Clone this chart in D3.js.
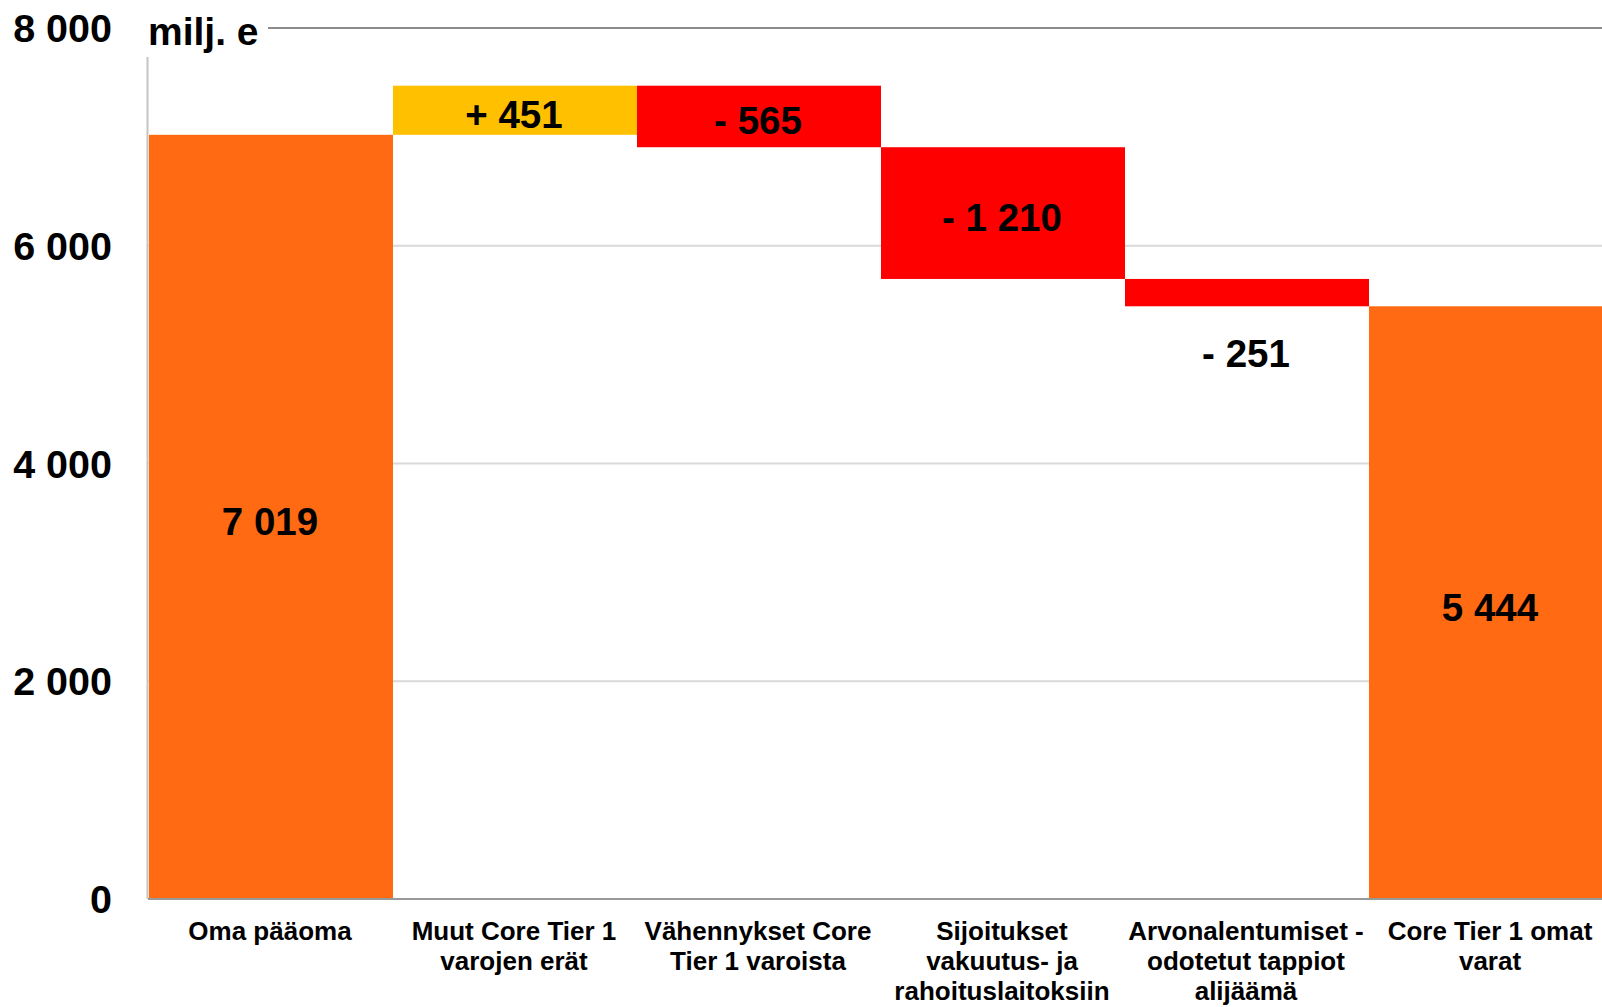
<!DOCTYPE html>
<html>
<head>
<meta charset="utf-8">
<script src="https://cdn.jsdelivr.net/npm/d3@7"></script>
<style>
  html, body { margin: 0; padding: 0; background: #fff; overflow: hidden; }
  svg { display: block; font-family: "Liberation Sans", Arial, sans-serif; font-weight: bold; }
</style>
</head>
<body>
<svg id="chart" width="1602" height="1007"></svg>
<script>
// ---- data ----
const categories = [
  ["Oma pääoma"],
  ["Muut Core Tier 1", "varojen erät"],
  ["Vähennykset Core", "Tier 1 varoista"],
  ["Sijoitukset", "vakuutus- ja", "rahoituslaitoksiin"],
  ["Arvonalentumiset -", "odotetut tappiot", "alijäämä"],
  ["Core Tier 1 omat", "varat"]
];
const values = [7019, 451, -565, -1210, -251, 5444];
const barTypes = ["total", "delta", "delta", "delta", "delta", "total"];
const valueLabels = ["7 019", "+ 451", "- 565", "- 1 210", "- 251", "5 444"];
const yTicks = [0, 2000, 4000, 6000, 8000];
const yTickLabels = ["0", "2 000", "4 000", "6 000", "8 000"];
const unitLabel = "milj. e";

// ---- layout ----
const W = 1602, H = 1007;
const left = 148, band = 244;
const yBottom = 899, yTop = 28;
const colors = { total: "#FF6A13", up: "#FFC000", down: "#FF0000" };

const svg = d3.select("#chart");

const x = d3.scaleBand()
  .domain(d3.range(categories.length))
  .range([left, left + band * categories.length])
  .padding(0);
const y = d3.scaleLinear().domain([0, 8000]).range([yBottom, yTop]);

// waterfall segments
let running = 0;
const bars = values.map((v, i) => {
  let lo, hi, color;
  if (barTypes[i] === "total") {
    lo = 0; hi = v; running = v; color = colors.total;
  } else {
    const start = running, end = running + v;
    lo = Math.min(start, end); hi = Math.max(start, end);
    running = end;
    color = v >= 0 ? colors.up : colors.down;
  }
  return { i, lo, hi, color, label: valueLabels[i] };
});

// gridlines (light)
svg.append("g").selectAll("line")
  .data(yTicks.filter(t => t > 0 && t < 8000))
  .join("line")
  .attr("x1", left).attr("x2", W)
  .attr("y1", d => y(d)).attr("y2", d => y(d))
  .attr("stroke", "#d9d9d9").attr("stroke-width", 2);

// top line (8000)
svg.append("line")
  .attr("x1", 268).attr("x2", W)
  .attr("y1", y(8000)).attr("y2", y(8000))
  .attr("stroke", "#8c8c8c").attr("stroke-width", 2);

// y axis line
svg.append("line")
  .attr("x1", 147.5).attr("x2", 147.5)
  .attr("y1", 57).attr("y2", yBottom)
  .attr("stroke", "#c8c4c0").attr("stroke-width", 2);

// bars
svg.append("g").selectAll("rect")
  .data(bars)
  .join("rect")
  .attr("x", d => x(d.i) + 1)
  .attr("width", x.bandwidth())
  .attr("y", d => y(d.hi))
  .attr("height", d => y(d.lo) - y(d.hi))
  .attr("fill", d => d.color);

// baseline
svg.append("line")
  .attr("x1", left).attr("x2", W)
  .attr("y1", y(0)).attr("y2", y(0))
  .attr("stroke", "#999").attr("stroke-width", 2);

// value labels
svg.append("g").selectAll("text")
  .data(bars)
  .join("text")
  .attr("x", d => x(d.i) + x.bandwidth() / 2)
  .attr("y", d => {
    const h = y(d.lo) - y(d.hi);
    if (h < 40) return y(d.lo) + 47;
    return (y(d.lo) + y(d.hi)) / 2 + 4;
  })
  .attr("dy", "0.36em")
  .attr("text-anchor", "middle")
  .attr("font-size", 38.5)
  .attr("fill", "#000")
  .text(d => d.label);

// y tick labels
svg.append("g").selectAll("text")
  .data(yTicks)
  .join("text")
  .attr("x", 112)
  .attr("y", d => y(d))
  .attr("dy", "0.36em")
  .attr("text-anchor", "end")
  .attr("font-size", 39.5)
  .attr("fill", "#000")
  .text((d, i) => yTickLabels[i]);

// unit label
svg.append("text")
  .attr("x", 148).attr("y", 45)
  .attr("font-size", 39)
  .attr("fill", "#000")
  .text(unitLabel);

// category labels
const cat = svg.append("g").selectAll("text")
  .data(categories)
  .join("text")
  .attr("text-anchor", "middle")
  .attr("font-size", 26)
  .attr("fill", "#000");
cat.each(function(lines, i) {
  const t = d3.select(this);
  lines.forEach((ln, k) => {
    t.append("tspan")
      .attr("x", x(i) + x.bandwidth() / 2)
      .attr("y", 940 + k * 30)
      .text(ln);
  });
});
</script>
</body>
</html>
